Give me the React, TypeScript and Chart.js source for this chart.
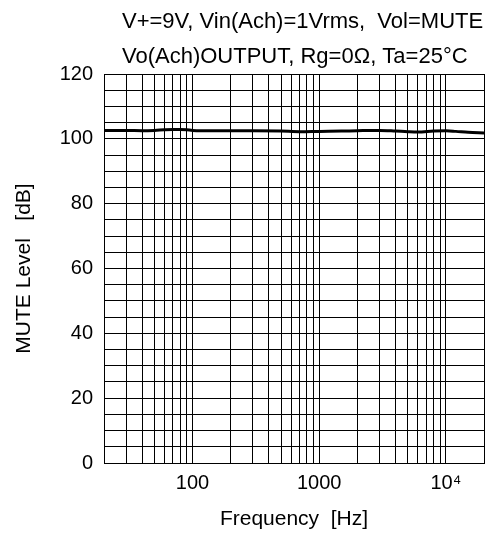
import React, { useEffect, useRef } from 'react';
import { Chart, registerables } from 'chart.js';

Chart.register(...registerables);

// ---- Data ----
const titleLines = ['V+=9V, Vin(Ach)=1Vrms,  Vol=MUTE', 'Vo(Ach)OUTPUT, Rg=0Ω, Ta=25°C'];
const xAxisTitle = 'Frequency  [Hz]';
const yAxisTitle = 'MUTE Level   [dB]';

const frequencies = [20, 30, 40, 50, 60, 70, 80, 90, 100, 150, 200, 300, 500, 700, 1000, 1500, 2000, 3000, 4000, 5000, 6000, 8000, 10000, 12000, 15000, 20000];
const muteLevel = [102.6, 102.6, 102.5, 102.6, 102.8, 102.9, 102.9, 102.8, 102.6, 102.5, 102.5, 102.5, 102.4, 102.2, 102.3, 102.4, 102.5, 102.6, 102.4, 102.2, 102.1, 102.4, 102.5, 102.3, 102.0, 101.8];

const xTickLabels: Record<number, string> = { 100: '100', 1000: '1000', 10000: '10⁴' };
const yTickLabels = [0, 20, 40, 60, 80, 100, 120];

const X_MIN = 20;
const X_MAX = 20000;
const Y_MIN = 0;
const Y_MAX = 120;
const Y_STEP = 5;

const FONT = "'Liberation Sans', Arial, sans-serif";

const titlePlugin = {
  id: 'conditionTitle',
  afterDraw(chart: any) {
    const { ctx, chartArea } = chart;
    ctx.save();
    ctx.font = `22px ${FONT}`;
    ctx.fillStyle = '#000';
    ctx.textAlign = 'left';
    ctx.textBaseline = 'alphabetic';
    ctx.fillText(titleLines[0], chartArea.left + 18, chartArea.top - 46);
    ctx.fillText(titleLines[1], chartArea.left + 18, chartArea.top - 11);
    ctx.restore();
  },
};

export default function App() {
  const ref = useRef<HTMLCanvasElement | null>(null);

  useEffect(() => {
    if (!ref.current) return;
    const chart = new Chart(ref.current, {
      type: 'line',
      data: {
        datasets: [
          {
            data: frequencies.map((f, i) => ({ x: f, y: muteLevel[i] })),
            borderColor: '#000',
            borderWidth: 3,
            pointRadius: 0,
            cubicInterpolationMode: 'monotone',
            fill: false,
          },
        ],
      },
      options: {
        animation: false,
        responsive: false,
        devicePixelRatio: 1,
        layout: { padding: { top: 74, right: 0, left: 0, bottom: 0 } },
        plugins: {
          legend: { display: false },
          tooltip: { enabled: false },
          title: { display: false },
        },
        scales: {
          x: {
            type: 'logarithmic',
            min: X_MIN,
            max: X_MAX,
            afterBuildTicks: (scale: any) => {
              const ticks: { value: number }[] = [];
              for (let e = 1; e <= 4; e++) {
                for (let m = 1; m <= 9; m++) {
                  const v = Number((m * Math.pow(10, e)).toPrecision(6));
                  if (v >= X_MIN && v <= X_MAX) ticks.push({ value: v });
                }
              }
              scale.ticks = ticks;
            },
            afterFit: (scale: any) => {
              scale.height = 70;
            },
            grid: { color: '#000', lineWidth: 1, drawTicks: false },
            border: { color: '#000', width: 1 },
            ticks: {
              autoSkip: false,
              maxRotation: 0,
              minRotation: 0,
              padding: 8,
              color: '#000',
              font: { family: FONT, size: 20 },
              callback: (v: any) => xTickLabels[Number(v)] ?? '',
            },
            title: {
              display: true,
              text: xAxisTitle,
              color: '#000',
              font: { family: FONT, size: 21 },
              padding: { top: 0, bottom: 1 },
            },
          },
          y: {
            type: 'linear',
            min: Y_MIN,
            max: Y_MAX,
            afterFit: (scale: any) => {
              scale.width = 104;
            },
            grid: { color: '#000', lineWidth: 1, drawTicks: false },
            border: { color: '#000', width: 1 },
            ticks: {
              stepSize: Y_STEP,
              autoSkip: false,
              padding: 11,
              color: '#000',
              font: { family: FONT, size: 20 },
              callback: (v: any) => (yTickLabels.includes(Number(v)) ? String(v) : ''),
            },
            title: {
              display: true,
              text: yAxisTitle,
              color: '#000',
              font: { family: FONT, size: 21 },
              padding: { top: 12, bottom: 0 },
            },
          },
        },
      } as any,
      plugins: [titlePlugin],
    });
    return () => chart.destroy();
  }, []);

  return (
    <div style={{ position: 'absolute', left: 0, top: 0, width: 492, height: 533, background: '#fff' }}>
      <canvas ref={ref} width={492} height={533} style={{ display: 'block' }} />
    </div>
  );
}
